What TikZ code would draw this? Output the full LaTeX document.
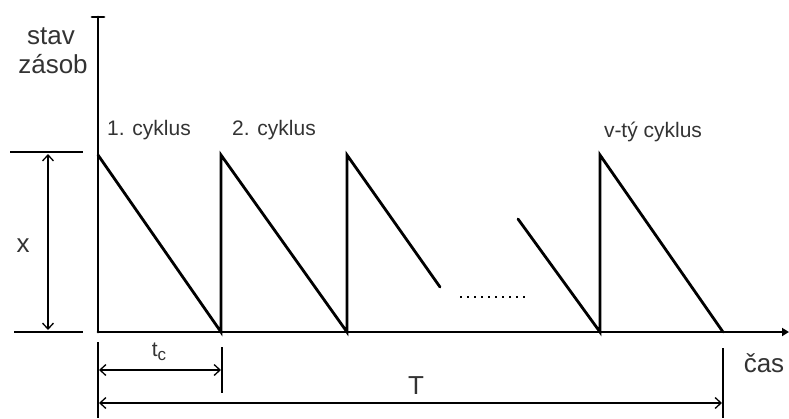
\documentclass[tikz,border=0pt]{standalone}
\usepackage{fontspec}
\setmainfont{Liberation Sans}
\usetikzlibrary{arrows.meta}
\definecolor{txt}{HTML}{333333}
\begin{document}
\begin{tikzpicture}[x=1pt,y=-1pt,
  main/.style={line width=2.8pt,line cap=round,line join=miter},
  dim/.style={line width=1.3pt},
  dimarrow/.style={line width=1.3pt,{Straight Barb[length=6pt,width=11pt]}-{Straight Barb[length=6pt,width=11pt]}},
  big/.style={text=txt,font=\fontsize{26}{28}\selectfont,inner sep=0pt},
  lab/.style={text=txt,font=\fontsize{21}{23}\selectfont,inner sep=0pt}]
\useasboundingbox (0,0) rectangle (789,418);
% coordinates
\coordinate (O) at (98,332);
\coordinate (Ytop) at (98,17);
\coordinate (Xend) at (789,332);
\coordinate (A1) at (98,155);
\coordinate (B1) at (221,332);
\coordinate (A2) at (221,155);
\coordinate (B2) at (347,332);
\coordinate (A3) at (347,155);
\coordinate (C3) at (440,287);
\coordinate (D1) at (518,219);
\coordinate (B3) at (600,332);
\coordinate (A4) at (600,155);
\coordinate (B4) at (723,332);
% axes
\draw[main] (O) -- (Ytop);
\draw[main] (92,17) -- (104,17);
\draw[main,-{Triangle[length=7pt,width=8pt]}] (O) -- (Xend);
% saw teeth
\draw[main] (A1) -- (B1) -- (A2) -- (B2) -- (A3) -- (C3);
\draw[main] (D1) -- (B3) -- (A4) -- (B4);
% dots
\draw[line width=1.6pt,dash pattern=on 2pt off 5pt] (460,297) -- (526,297);
% x dimension
\coordinate (Xt1) at (10,152);
\coordinate (Xt2) at (83,152);
\coordinate (Xb1) at (14,332);
\coordinate (Xb2) at (83,332);
\draw[dim] (Xt1) -- (Xt2);
\draw[dim] (Xb1) -- (Xb2);
\draw[dimarrow] (48,154) -- (48,330);
\node[big] (xl) at (23,246) {x};
% bottom dimensions
\draw[dim] (98,342) -- (98,418);
\draw[dim] (222,347) -- (222,393);
\draw[dim] (723,348) -- (723,418);
\draw[dimarrow] (99,370) -- (221,370);
\draw[dimarrow] (99,403) -- (722,403);
\node[lab] (tc) at (159,352) {t\raisebox{-4pt}{\fontsize{17}{18}\selectfont c}};
\node[big] (T) at (416,386) {T};
% labels
\node[big] (stav) at (51,36) {stav};
\node[big] (zasob) at (53,64) {zásob};
\node[big] (cas) at (764,363) {čas};
\node[lab] (c1) at (149,130) {1. cyklus};
\node[lab] (c2) at (274,130) {2. cyklus};
\node[lab] (cv) at (653,132) {v-tý cyklus};
\end{tikzpicture}
\end{document}
